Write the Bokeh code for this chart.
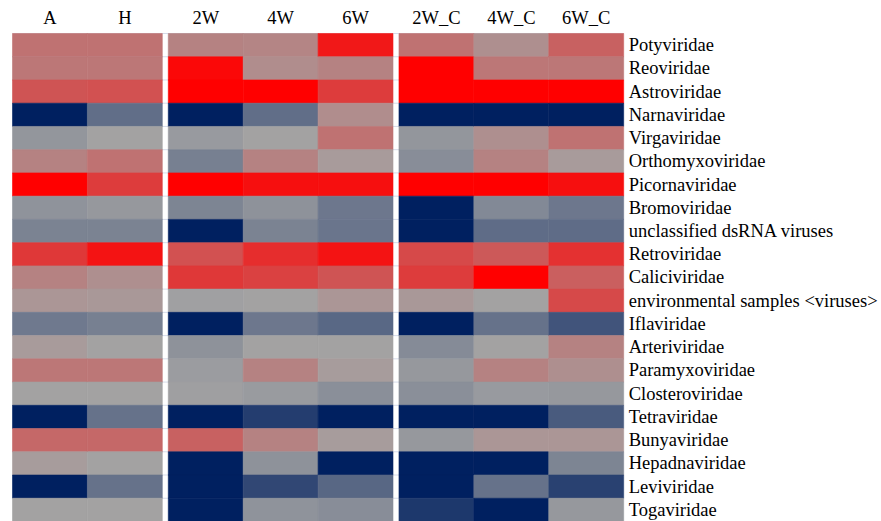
import numpy as np
from bokeh.plotting import figure
from bokeh.models import ColumnDataSource, LinearColorMapper, Range1d
from bokeh.embed import file_html
from bokeh.resources import INLINE
from bokeh.core.properties import value

# Sample columns (left to right) and the block each belongs to
samples = ["A", "H", "2W", "4W", "6W", "2W_C", "4W_C", "6W_C"]
sample_block = [0, 0, 1, 1, 1, 2, 2, 2]

families = [
    "Potyviridae", "Reoviridae", "Astroviridae", "Narnaviridae", "Virgaviridae",
    "Orthomyxoviridae", "Picornaviridae", "Bromoviridae", "unclassified dsRNA viruses",
    "Retroviridae", "Caliciviridae", "environmental samples <viruses>", "Iflaviridae",
    "Arteriviridae", "Paramyxoviridae", "Closteroviridae", "Tetraviridae",
    "Bunyaviridae", "Hepadnaviridae", "Leviviridae", "Togaviridae",
]

# Scaled abundance per sample (-1 = lowest, +1 = highest), one value per family
val_A = [0.30, 0.27, 0.48, -1.0, -0.10, 0.20, 1.00, -0.12, -0.25, 0.65, 0.20,
         0.08, -0.32, 0.05, 0.27, 0.00, -1.0, 0.36, 0.04, -1.0, 0.00]
val_H = [0.30, 0.27, 0.50, -0.40, 0.00, 0.30, 0.63, -0.08, -0.25, 0.88, 0.12,
         0.07, -0.27, 0.00, 0.27, 0.00, -0.37, 0.36, 0.00, -0.37, 0.00]
val_2W = [0.20, 0.95, 1.00, -1.0, -0.07, -0.27, 1.00, -0.23, -1.0, 0.50, 0.65,
          -0.02, -1.0, -0.13, -0.05, -0.03, -1.0, 0.40, -1.0, -1.0, -1.0]
val_4W = [0.18, 0.14, 1.00, -0.40, 0.00, 0.20, 0.90, -0.13, -0.25, 0.72, 0.60,
          0.00, -0.33, 0.00, 0.20, -0.06, -0.78, 0.20, -0.13, -0.70, -0.12]
val_6W = [0.85, 0.20, 0.63, 0.14, 0.30, 0.05, 0.90, -0.33, -0.35, 0.88, 0.48,
          0.08, -0.45, 0.00, 0.04, -0.15, -1.0, 0.04, -1.0, -0.46, -0.17]
val_2W_C = [0.30, 1.00, 1.00, -1.0, -0.10, -0.17, 1.00, -1.0, -1.0, 0.55, 0.63,
            0.07, -1.0, -0.18, -0.08, -0.15, -1.0, -0.08, -1.0, -1.0, -0.82]
val_4W_C = [0.12, 0.27, 1.00, -1.0, 0.12, 0.20, 1.00, -0.20, -0.42, 0.45, 1.00,
            0.00, -0.37, 0.00, 0.20, -0.07, -1.0, 0.08, -1.0, -0.37, -1.0]
val_6W_C = [0.40, 0.27, 1.00, -1.0, 0.30, 0.05, 0.90, -0.33, -0.42, 0.70, 0.42,
            0.55, -0.60, 0.20, 0.12, -0.08, -0.55, 0.08, -0.23, -0.75, -0.08]

columns = [val_A, val_H, val_2W, val_4W, val_6W, val_2W_C, val_4W_C, val_6W_C]

# Diverging palette: navy -> grey -> red
low_c = np.array([0, 32, 96])
mid_c = np.array([163, 163, 163])
high_c = np.array([255, 0, 0])
palette = []
for i in range(256):
    v = -1 + 2 * i / 255
    if v < 0:
        c = mid_c + (-v) * (low_c - mid_c)
    else:
        c = mid_c + v * (high_c - mid_c)
    c = np.clip(np.round(c), 0, 255).astype(int)
    palette.append("#%02x%02x%02x" % tuple(c))
mapper = LinearColorMapper(palette=palette, low=-1, high=1)

GAP = 0.08  # white separation between sample blocks (in column units)
n_rows = len(families)

def col_left(j):
    return j + GAP * sample_block[j]

x0, x1, y0, y1, vals = [], [], [], [], []
for j, col in enumerate(columns):
    for i, v in enumerate(col):
        x0.append(col_left(j))
        x1.append(col_left(j) + 1)
        y0.append(i)
        y1.append(i + 1)
        vals.append(v)
cells = ColumnDataSource(dict(left=x0, right=x1, top=y0, bottom=y1, v=vals))

px_per_unit = 74.9
row_px = 23.24
right_edge = col_left(len(samples) - 1) + 1

p = figure(
    width=881, height=521, output_backend="svg", toolbar_location=None,
    x_range=Range1d(-12 / px_per_unit, -12 / px_per_unit + 881 / px_per_unit),
    y_range=Range1d(n_rows, -33 / row_px),
    min_border=0, outline_line_color=None,
)
p.axis.visible = False
p.grid.visible = False
p.background_fill_color = "white"
p.border_fill_color = "white"

# faint row separators running across the whole matrix, gaps included
p.segment(x0=[0] * (n_rows + 1), x1=[right_edge] * (n_rows + 1),
          y0=list(range(n_rows + 1)), y1=list(range(n_rows + 1)),
          line_color="#d6dcea", line_width=1)

p.quad(left="left", right="right", top="top", bottom="bottom", source=cells,
       fill_color={"field": "v", "transform": mapper},
       line_color={"field": "v", "transform": mapper}, line_width=0.6)

# column headers
hx = [col_left(j) + 0.5 for j in range(len(samples))]
p.text(x=hx, y=[-15 / row_px] * len(samples), text=samples,
       text_align="center", text_baseline="middle",
       text_font=value("Liberation Serif"), text_font_size="18.5px",
       text_color="#000000")

# family labels on the right
p.text(x=[right_edge + 5 / px_per_unit] * n_rows,
       y=[i + 0.5 for i in range(n_rows)], text=families,
       text_align="left", text_baseline="middle",
       text_font=value("Liberation Serif"), text_font_size="18.5px",
       text_color="#000000")

open("out.html", "w").write(file_html(p, INLINE))
